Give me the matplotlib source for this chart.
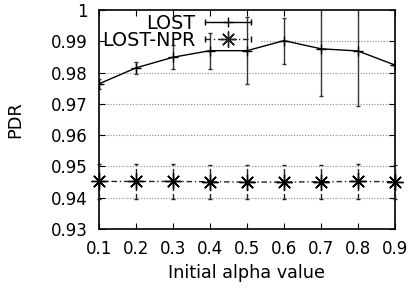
import matplotlib
matplotlib.use("Agg")
import matplotlib.pyplot as plt
from matplotlib.lines import Line2D
from matplotlib.legend_handler import HandlerLine2D, HandlerTuple

alpha = [0.1, 0.2, 0.3, 0.4, 0.5, 0.6, 0.7, 0.8, 0.9]
lost = [0.9764, 0.9815, 0.9849, 0.9870, 0.9870, 0.9902, 0.9876, 0.9869, 0.9824]
lost_err = [0.0015, 0.0018, 0.0038, 0.0057, 0.0107, 0.0074, 0.0151, 0.0176, 0.0003]
npr = [0.9452, 0.9452, 0.9452, 0.9451, 0.9450, 0.9450, 0.9451, 0.9452, 0.9451]
npr_err = [0.0055, 0.0055, 0.0055, 0.0055, 0.0055, 0.0055, 0.0055, 0.0055, 0.0055]
yticks = [0.93, 0.94, 0.95, 0.96, 0.97, 0.98, 0.99, 1.0]
ytick_labels = ["0.93", "0.94", "0.95", "0.96", "0.97", "0.98", "0.99", "1"]

plt.rcParams['font.family'] = ['DejaVu Sans']
fig = plt.figure(figsize=(4.12, 2.87), dpi=100)
ax = fig.add_axes([99/412, 1-229/287, (395-99)/412, (229-10)/287])

dashdot = (0, (4, 2, 1, 2))
star = (8, 2, 0)

ax.errorbar(alpha, lost, yerr=lost_err, color='black', lw=1.0, elinewidth=1.0,
            ecolor='#333333', capsize=1.5, capthick=1.0, marker='+', ms=7.5, mew=1.0,
            clip_on=True, zorder=3)
eb = ax.errorbar(alpha, npr, yerr=npr_err, color='#222222', lw=1.0, ls=dashdot,
                 elinewidth=1.0, capsize=1.5, capthick=1.0, marker=star, ms=11.5,
                 mew=1.0, mec='black', clip_on=False, zorder=3)
eb[2][0].set_linestyle(dashdot)

ax.set_xlim(0.1, 0.9)
ax.set_ylim(0.93, 1.0)
ax.set_xticks(alpha)
ax.set_xticklabels([f"{a:.1f}" for a in alpha])
ax.set_yticks(yticks)
ax.set_yticklabels(ytick_labels)
ax.tick_params(direction='in', length=4, width=0.8, labelsize=12, top=True, right=True)
ax.tick_params(axis='y', pad=8)
ax.tick_params(axis='x', pad=8)
for s in ax.spines.values():
    s.set_linewidth(1.2)
for y in yticks[1:-1]:
    xmin = 0.547 if y == 0.99 else 0.0
    ax.axhline(y, xmin=xmin, color='#888888', lw=0.8, ls=(0, (1, 1.5)), zorder=1)

ax.set_ylabel("PDR", fontsize=12.7, labelpad=19)
ax.set_xlabel("Initial alpha value", fontsize=12.7, labelpad=4)

# legend handles
l1 = Line2D([], [], color='black', lw=1.0, marker='+', ms=7.5, mew=1.0)
c1 = Line2D([], [], color='black', lw=0, marker='|', ms=4, mew=1.0)
l2 = Line2D([], [], color='#222222', lw=1.0, ls=dashdot, marker=star, ms=11.5, mew=1.0)
c2 = Line2D([], [], color='black', lw=0, marker='|', ms=4, mew=1.0)
leg = ax.legend([(l1, c1), (l2, c2)], ["LOST", "LOST-NPR"],
                handler_map={c1: HandlerLine2D(numpoints=2, marker_pad=0),
                             c2: HandlerLine2D(numpoints=2, marker_pad=0),
                             tuple: HandlerTuple(ndivide=1, pad=0)},
                loc='upper left', bbox_to_anchor=(0.009, 0.984), markerfirst=False,
                frameon=False, fontsize=13.8, handlelength=2.4, handletextpad=0.55,
                borderpad=0.0, labelspacing=-0.08, borderaxespad=0.0)
for t in leg.get_texts():
    t.set_ha('right')

fig.savefig("out.png", dpi=100)
